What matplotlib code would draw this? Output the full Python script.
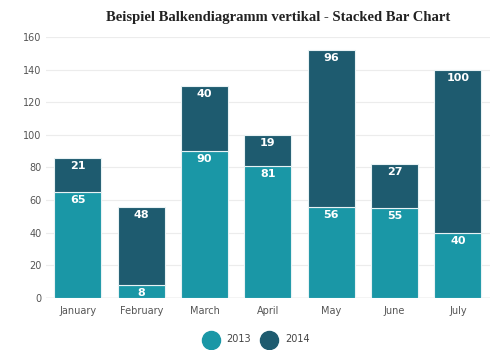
import matplotlib.pyplot as plt
from matplotlib.lines import Line2D
import numpy as np

months = ["January", "February", "March", "April", "May", "June", "July"]
sales_2013 = [65, 8, 90, 81, 56, 55, 40]
sales_2014 = [21, 48, 40, 19, 96, 27, 100]
y_ticks = [0, 20, 40, 60, 80, 100, 120, 140, 160]

col_2013 = "#1a97a6"
col_2014 = "#1e5b6f"

fig = plt.figure(figsize=(4.97, 3.5), dpi=100)
ax = fig.add_axes([0.093, 0.149, 0.892, 0.745])

x = np.arange(len(months))
ax.bar(x, sales_2013, width=0.74, color=col_2013, edgecolor="#e8f2f4", linewidth=0.8, zorder=2)
ax.bar(x, sales_2014, width=0.74, bottom=sales_2013, color=col_2014, edgecolor="#e8f2f4", linewidth=0.8, zorder=2)

# value labels near the top of each segment
for i in range(len(months)):
    ax.text(x[i], sales_2013[i] - 2, str(sales_2013[i]), ha="center", va="top",
            color="white", fontsize=8, fontweight="bold", zorder=3)
    top = sales_2013[i] + sales_2014[i]
    ax.text(x[i], top - 2, str(sales_2014[i]), ha="center", va="top",
            color="white", fontsize=8, fontweight="bold", zorder=3)

ax.set_xlim(-0.5, len(months) - 0.5)
ax.set_ylim(0, 160)
ax.set_yticks(y_ticks)
ax.set_xticks(x)
ax.set_xticklabels(months)
ax.tick_params(axis="both", labelsize=7, colors="#555555", length=0)
ax.tick_params(axis="x", pad=6)
ax.grid(axis="y", color="#ececec", linewidth=0.8, zorder=0)
ax.axhline(0, color="#cccccc", linewidth=1, zorder=1)
for s in ax.spines.values():
    s.set_visible(False)

fig.suptitle("Beispiel Balkendiagramm vertikal - Stacked Bar Chart", x=0.56, y=0.97,
             fontsize=10.5, fontweight="bold", family="Liberation Serif", color="#222222")

# legend with round markers
for xm, col in [(0.424, col_2013), (0.541, col_2014)]:
    fig.add_artist(Line2D([xm], [0.03], marker="o", markersize=13, color=col,
                          linestyle="none", transform=fig.transFigure))
fig.text(0.456, 0.03, "2013", color="#444444", fontsize=7, ha="left", va="center")
fig.text(0.574, 0.03, "2014", color="#444444", fontsize=7, ha="left", va="center")

fig.savefig("out.png", dpi=100)
